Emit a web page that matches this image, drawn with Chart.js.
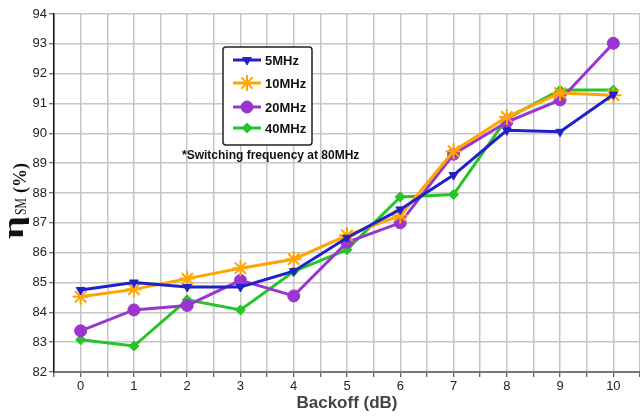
<!DOCTYPE html>
<html>
<head>
<meta charset="utf-8">
<script src="https://cdn.jsdelivr.net/npm/chart.js@4/dist/chart.umd.min.js"></script>
<style>
  html, body { margin: 0; padding: 0; background: #fff; }
  #effChart { display: block; }
</style>
</head>
<body>
<canvas id="effChart" width="640" height="416"></canvas>
<script>
  'use strict';

  // values
  var backoff = [0, 1, 2, 3, 4, 5, 6, 7, 8, 9, 10];
  var eff5MHz  = [84.75, 85.0, 84.85, 84.85, 85.38, 86.5, 87.45, 88.6, 90.1, 90.05, 91.3];
  var eff10MHz = [84.52, 84.77, 85.13, 85.48, 85.78, 86.58, 87.25, 89.4, 90.55, 91.35, 91.28];
  var eff20MHz = [83.38, 84.08, 84.23, 85.07, 84.55, 86.35, 87.0, 89.3, 90.38, 91.12, 93.02];
  var eff40MHz = [83.08, 82.87, 84.42, 84.08, 85.37, 86.1, 87.87, 87.95, 90.5, 91.45, 91.45];
  var seriesNames = ['5MHz', '10MHz', '20MHz', '40MHz'];
  var yTicks = [82, 83, 84, 85, 86, 87, 88, 89, 90, 91, 92, 93, 94];
  var note = '*Switching frequency at 80MHz';

  var sans = "Arial, 'Liberation Sans', sans-serif";
  var serif = "'Times New Roman', 'Liberation Serif', serif";

  function toPoints(ys) {
    return ys.map(function (y, i) { return { x: backoff[i], y: y }; });
  }

  var styles = [
    { color: '#2121c6', pointStyle: 'triangle', radius: 5, rotation: 180, bw: 1 },
    { color: '#ffa500', pointStyle: 'star', radius: 8, rotation: 0, bw: 2 },
    { color: '#9a35cf', pointStyle: 'circle', radius: 6, rotation: 0, bw: 1 },
    { color: '#25c42a', pointStyle: 'rectRot', radius: 5, rotation: 0, bw: 1 }
  ];
  var allSeries = [eff5MHz, eff10MHz, eff20MHz, eff40MHz];

  var datasets = allSeries.map(function (ys, i) {
    var s = styles[i];
    return {
      label: seriesNames[i],
      data: toPoints(ys),
      borderColor: s.color,
      backgroundColor: s.color,
      borderWidth: 3,
      pointStyle: s.pointStyle,
      pointRadius: s.radius,
      pointRotation: s.rotation,
      pointBorderWidth: s.bw,
      pointBackgroundColor: s.color,
      pointBorderColor: s.color,
      tension: 0,
      clip: 12
    };
  });

  // legend box, note and the eta_SM axis title
  var extras = {
    id: 'extras',
    afterDraw: function (chart) {
      var ctx = chart.ctx;
      ctx.save();

      // legend box
      ctx.fillStyle = '#fff';
      ctx.strokeStyle = '#222';
      ctx.lineWidth = 1.5;
      ctx.beginPath();
      if (ctx.roundRect) ctx.roundRect(223, 47, 89, 98, 3); else ctx.rect(223, 47, 89, 98);
      ctx.fill();
      ctx.stroke();

      var rows = [60, 83, 107, 128];
      for (var i = 0; i < seriesNames.length; i++) {
        var s = styles[i];
        var y = rows[i];
        ctx.strokeStyle = s.color;
        ctx.lineWidth = 3;
        ctx.beginPath();
        ctx.moveTo(233, y);
        ctx.lineTo(261, y);
        ctx.stroke();
        ctx.fillStyle = s.color;
        ctx.lineWidth = s.bw;
        Chart.helpers.drawPoint(ctx, {
          pointStyle: s.pointStyle, radius: s.radius, rotation: s.rotation, borderWidth: s.bw
        }, 247, y);
        ctx.fillStyle = '#111';
        ctx.font = 'bold 13px ' + sans;
        ctx.textBaseline = 'middle';
        ctx.textAlign = 'left';
        ctx.fillText(seriesNames[i], 265, y + 1);
      }

      // note
      ctx.fillStyle = '#111';
      ctx.font = 'bold 12px ' + sans;
      ctx.textBaseline = 'middle';
      ctx.textAlign = 'left';
      ctx.fillText(note, 182, 156);

      // y title: eta with subscript SM, then (%)
      ctx.rotate(-Math.PI / 2);
      ctx.textBaseline = 'alphabetic';
      ctx.fillStyle = '#111';
      function fitText(txt, font, start, width, base) {
        ctx.font = font;
        var w = ctx.measureText(txt).width;
        ctx.save();
        ctx.translate(start, base);
        ctx.scale(width / w, 1);
        ctx.fillText(txt, 0, 0);
        ctx.restore();
      }
      // rotated coords: x' = -y, y' = x
      fitText('\u03B7', 'bold 29px ' + serif, -239, 23, 23);
      fitText('SM', '17px ' + serif, -215, 17, 26);
      fitText('(%)', 'bold 18px ' + serif, -193, 30, 26);

      ctx.restore();
    }
  };

  var ctxEl = document.getElementById('effChart').getContext('2d');
  var effChart = new Chart(ctxEl, {
    type: 'line',
    data: { datasets: datasets },
    options: {
      responsive: false,
      animation: false,
      events: [],
      layout: { autoPadding: false, padding: { top: 14, right: 0, left: 0, bottom: 0 } },
      plugins: {
        legend: { display: false },
        tooltip: { enabled: false }
      },
      scales: {
        x: {
          type: 'linear',
          min: -0.5,
          max: 10.5,
          afterFit: function (scale) {
            scale.height = 44;
            scale.paddingLeft = 0;
            scale.paddingRight = 0;
          },
          afterBuildTicks: function (scale) {
            var t = [];
            for (var v = -0.5; v <= 10.5; v += 0.5) t.push({ value: v });
            scale.ticks = t;
          },
          ticks: {
            autoSkip: false,
            maxRotation: 0,
            padding: 2,
            color: '#222',
            font: { family: sans, size: 13 },
            callback: function (v) {
              return (Number.isInteger(v) && v >= 0 && v <= 10) ? String(v) : '';
            }
          },
          grid: { color: '#c6c6c6', lineWidth: 1.5, tickLength: 5, tickColor: '#333', tickWidth: 1 },
          border: { color: '#777', width: 2 },
          title: {
            display: true,
            text: 'Backoff (dB)',
            color: '#444',
            font: { family: sans, size: 17, weight: 'bold' },
            padding: { top: 0, bottom: 2 }
          }
        },
        y: {
          min: 82,
          max: 94,
          afterFit: function (scale) { scale.width = 54; },
          afterBuildTicks: function (scale) {
            scale.ticks = yTicks.map(function (v) { return { value: v }; });
          },
          ticks: {
            padding: 2,
            color: '#222',
            font: { family: sans, size: 13 }
          },
          grid: { color: '#c6c6c6', lineWidth: 1.5, tickLength: 5, tickColor: '#444', tickWidth: 1 },
          border: { color: '#111', width: 1.5 }
        }
      }
    },
    plugins: [extras]
  });
</script>
</body>
</html>
